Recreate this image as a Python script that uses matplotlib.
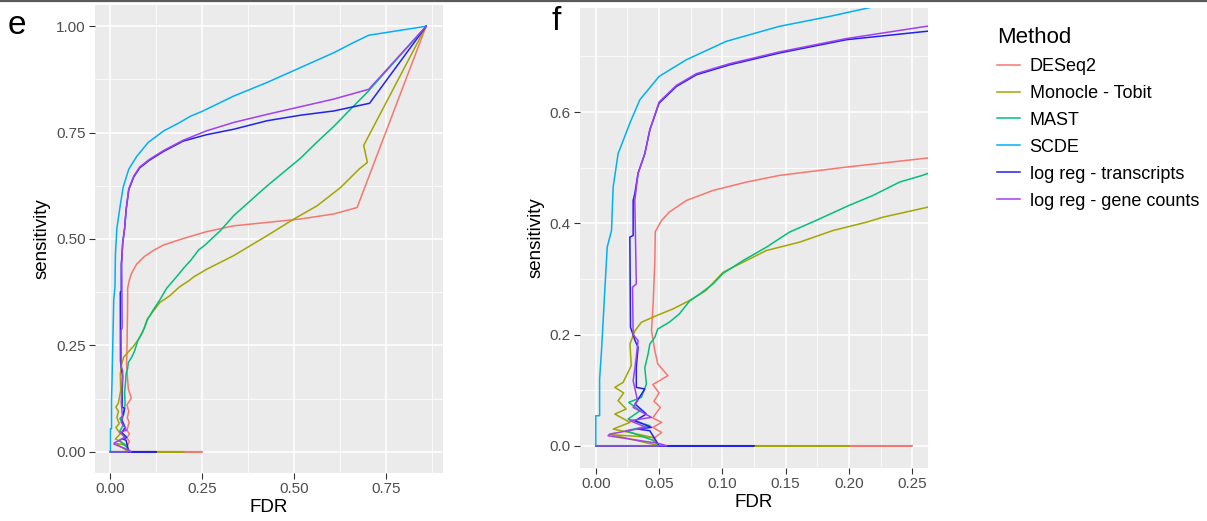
import matplotlib.pyplot as plt
from matplotlib.lines import Line2D
from matplotlib.ticker import MultipleLocator

plt.rcParams['font.family'] = ['Liberation Sans', 'DejaVu Sans']

methods = ["DESeq2", "Monocle - Tobit", "MAST", "SCDE",
           "log reg - transcripts", "log reg - gene counts"]
colors = ["#F8766D", "#A3A500", "#00BF7D", "#00B0F6", "#2222F0", "#A040F0"]

# FDR / sensitivity curves (path order)
deseq2_fdr = [0, 0.25, 0.05, 0.045, 0.052, 0.045, 0.052, 0.045, 0.051, 0.046, 0.050,
              0.045, 0.057, 0.049, 0.0466, 0.044, 0.0453, 0.0466, 0.047, 0.052, 0.058,
              0.0716, 0.0927, 0.119, 0.145, 0.198, 0.261, 0.336, 0.427, 0.518, 0.609,
              0.672, 0.86]
deseq2_sens = [0, 0, 0, 0.012, 0.024, 0.033, 0.042, 0.05, 0.069, 0.08, 0.095,
               0.11, 0.126, 0.147, 0.171, 0.207, 0.255, 0.33, 0.385, 0.405, 0.42,
               0.441, 0.459, 0.474, 0.486, 0.501, 0.517, 0.531, 0.539, 0.547, 0.559,
               0.574, 1.0]

monocle_fdr = [0, 0.2, 0.05, 0.012, 0.045, 0.0137, 0.027, 0.015, 0.024, 0.0176, 0.022,
               0.015, 0.0216, 0.028, 0.027, 0.031, 0.036, 0.048, 0.061, 0.074, 0.087,
               0.1006, 0.1164, 0.1348, 0.161, 0.1875, 0.214, 0.227, 0.2625, 0.336,
               0.427, 0.5, 0.563, 0.627, 0.677, 0.70, 0.69, 0.86]
monocle_sens = [0, 0, 0, 0.02, 0.015, 0.03, 0.042, 0.057, 0.066, 0.081, 0.095,
                0.105, 0.114, 0.144, 0.183, 0.207, 0.222, 0.234, 0.246, 0.261, 0.279,
                0.312, 0.33, 0.351, 0.366, 0.387, 0.402, 0.411, 0.429, 0.461,
                0.508, 0.547, 0.578, 0.621, 0.664, 0.68, 0.72, 1.0]

mast_fdr = [0, 0.05, 0.045, 0.024, 0.0427, 0.0255, 0.035, 0.026, 0.036, 0.04, 0.0387,
            0.0413, 0.0427, 0.0466, 0.049, 0.058, 0.066, 0.074, 0.0822, 0.0927, 0.1006,
            0.1164, 0.1348, 0.153, 0.174, 0.2, 0.219, 0.24, 0.258, 0.30, 0.336, 0.427,
            0.518, 0.563, 0.609, 0.654, 0.70, 0.86]
mast_sens = [0, 0, 0.01, 0.027, 0.036, 0.048, 0.063, 0.078, 0.087, 0.111, 0.14,
             0.165, 0.183, 0.195, 0.21, 0.222, 0.237, 0.26, 0.273, 0.291, 0.31,
             0.333, 0.357, 0.384, 0.405, 0.432, 0.45, 0.474, 0.486, 0.52, 0.555, 0.625,
             0.69, 0.728, 0.765, 0.805, 0.845, 1.0]

scde_fdr = [0, 0, 0.003, 0.003, 0.0045, 0.0071, 0.009, 0.0124, 0.0137, 0.0176, 0.0269,
            0.0348, 0.05, 0.0716, 0.103, 0.145, 0.185, 0.219, 0.25, 0.336, 0.427, 0.518,
            0.609, 0.663, 0.704, 0.86]
scde_sens = [0, 0.054, 0.054, 0.12, 0.171, 0.279, 0.357, 0.387, 0.465, 0.525, 0.58,
             0.622, 0.664, 0.694, 0.727, 0.754, 0.772, 0.789, 0.80, 0.836, 0.868, 0.903,
             0.938, 0.962, 0.979, 1.0]

lr_tx_fdr = [0, 0.125, 0.05, 0.0427, 0.033, 0.044, 0.031, 0.04, 0.031, 0.0387, 0.032,
             0.032, 0.0334, 0.031, 0.0274, 0.0269, 0.0295, 0.0295, 0.0308, 0.0334, 0.0387,
             0.0427, 0.05, 0.0637, 0.0795, 0.106, 0.145, 0.198, 0.261, 0.336, 0.427,
             0.518, 0.609, 0.706, 0.86]
lr_tx_sens = [0, 0, 0, 0.027, 0.03, 0.033, 0.045, 0.057, 0.075, 0.102, 0.105,
              0.141, 0.177, 0.189, 0.213, 0.375, 0.378, 0.441, 0.453, 0.49, 0.525,
              0.568, 0.616, 0.646, 0.667, 0.685, 0.706, 0.73, 0.745, 0.758, 0.778,
              0.791, 0.801, 0.819, 1.0]

lr_gc_fdr = [0, 0.056, 0.05, 0.0097, 0.011, 0.04, 0.027, 0.044, 0.0295, 0.033, 0.0295,
             0.031, 0.0334, 0.0295, 0.029, 0.032, 0.0308, 0.0334, 0.0387, 0.0427, 0.05,
             0.0637, 0.0795, 0.106, 0.145, 0.198, 0.261, 0.336, 0.427, 0.518, 0.609,
             0.704, 0.86]
lr_gc_sens = [0, 0, 0.004, 0.018, 0.021, 0.033, 0.045, 0.051, 0.069, 0.081, 0.117,
              0.141, 0.189, 0.2, 0.285, 0.291, 0.441, 0.49, 0.525, 0.568, 0.618,
              0.648, 0.669, 0.687, 0.708, 0.732, 0.754, 0.774, 0.793, 0.811, 0.829,
              0.852, 1.0]

curves = [(deseq2_fdr, deseq2_sens), (monocle_fdr, monocle_sens), (mast_fdr, mast_sens),
          (scde_fdr, scde_sens), (lr_tx_fdr, lr_tx_sens), (lr_gc_fdr, lr_gc_sens)]

W, H = 1207, 521
fig = plt.figure(figsize=(W / 100, H / 100), dpi=100)
ax_e = fig.add_axes([95 / W, 1 - 473 / H, 348 / W, 468 / H])
ax_f = fig.add_axes([580 / W, 1 - 468 / H, 348 / W, 460 / H])


def style(ax):
    ax.set_facecolor("#EBEBEB")
    for s in ax.spines.values():
        s.set_visible(False)
    ax.grid(True, which="major", color="white", linewidth=1.1)
    ax.grid(True, which="minor", color="white", linewidth=0.55)
    ax.set_axisbelow(True)
    ax.tick_params(which="major", length=4, width=0.8, color="#333333",
                   labelcolor="#4D4D4D", labelsize=11, pad=2.5)
    ax.tick_params(which="minor", length=0)
    ax.set_xlabel("FDR", fontsize=13.5, labelpad=2)
    ax.set_ylabel("sensitivity", fontsize=13.5, labelpad=4)


for ax in (ax_e, ax_f):
    for (x, y), c in zip(curves, colors):
        ax.plot(x, y, color=c, linewidth=1.1)
    style(ax)

ax_e.set_xlim(-0.042, 0.906)
ax_e.set_ylim(-0.05, 1.05)
ax_e.xaxis.set_major_locator(MultipleLocator(0.25))
ax_e.xaxis.set_minor_locator(MultipleLocator(0.125))
ax_e.yaxis.set_major_locator(MultipleLocator(0.25))
ax_e.yaxis.set_minor_locator(MultipleLocator(0.125))
ax_e.xaxis.set_major_formatter(lambda v, p: f"{v:.2f}")
ax_e.yaxis.set_major_formatter(lambda v, p: f"{v:.2f}")

ax_f.set_xlim(-0.0125, 0.2625)
ax_f.set_ylim(-0.04, 0.787)
ax_f.xaxis.set_major_locator(MultipleLocator(0.05))
ax_f.xaxis.set_minor_locator(MultipleLocator(0.025))
ax_f.yaxis.set_major_locator(MultipleLocator(0.2))
ax_f.yaxis.set_minor_locator(MultipleLocator(0.1))
ax_f.xaxis.set_major_formatter(lambda v, p: f"{v:.2f}")
ax_f.yaxis.set_major_formatter(lambda v, p: f"{v:.1f}")

fig.text(8 / W, 1 - 25 / H, "e", fontsize=24, va="center", ha="left")
fig.text(552 / W, 1 - 22 / H, "f", fontsize=24, va="center", ha="left")

handles = [Line2D([], [], color=c, linewidth=1.1) for c in colors]
fig.legend(handles, methods, loc="upper left", bbox_to_anchor=(997 / W, 1 - 27 / H),
           frameon=False, title="Method", fontsize=13, title_fontsize=16,
           alignment="left", handlelength=1.3, handletextpad=0.5,
           labelspacing=0.55, borderaxespad=0, borderpad=0)

fig.add_artist(Line2D([0, 1], [1 - 1 / H, 1 - 1 / H], color="#5A5A5A", linewidth=1.6))

fig.savefig("out.png", dpi=100)
